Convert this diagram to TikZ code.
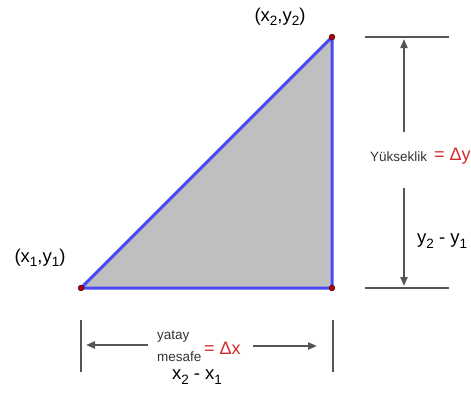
\documentclass[tikz,border=0pt]{standalone}
\usepackage{fontspec}
\setmainfont{Liberation Sans}
\usepackage{tikz}
\usepackage{xcolor}
\usetikzlibrary{arrows.meta,positioning,calc}
\definecolor{edgeblue}{HTML}{4A4AF5}
\definecolor{shadegray}{HTML}{BFBFBF}
\definecolor{dotred}{HTML}{C00000}
\definecolor{dimgray}{HTML}{555555}
\definecolor{deltared}{HTML}{D42A2A}
\newcommand{\lowidx}[1]{\raisebox{-0.45ex}{\fontsize{13.5}{14}\selectfont #1}}

\begin{document}
\begin{tikzpicture}[x=1pt,y=-1pt,
    big/.style={font=\fontsize{18.5}{20}\selectfont,inner sep=0pt},
    small/.style={font=\fontsize{13.5}{15}\selectfont,inner sep=0pt},
    delta/.style={font=\fontsize{18}{20}\selectfont,inner sep=0pt,text=deltared,anchor=west},
    dimline/.style={dimgray,line width=2.2pt},
    dimarrow/.style={dimgray,line width=2pt,-{Triangle[length=9pt,width=7pt]}}]
  \useasboundingbox (0,0) rectangle (471,394);
  % triangle corners
  \coordinate (A) at (81,288);
  \coordinate (B) at (332,288);
  \coordinate (C) at (332,37);
  \fill[shadegray] (A) -- (B) -- (C) -- cycle;
  \draw[edgeblue,line width=3pt,line join=round] (A) -- (B) -- (C) -- cycle;
  \foreach \p in {A,B,C}
    \filldraw[fill=dotred,draw=black!70!dotred,line width=0.6pt] (\p) circle (2.8pt);
  \node[big] (lblA) at (40,258) {(x\lowidx{1},y\lowidx{1})};
  \node[big] (lblC) at (280,17) {(x\lowidx{2},y\lowidx{2})};
  % vertical size
  \coordinate (ttopL) at (365,37);
  \coordinate (ttopR) at (449,37);
  \coordinate (tbotL) at (365,288);
  \coordinate (tbotR) at (449,288);
  \draw[dimline] (ttopL) -- (ttopR);
  \draw[dimline] (tbotL) -- (tbotR);
  \coordinate (upTail) at (404,132);
  \coordinate (upTip) at (404,39);
  \coordinate (dnTail) at (404,188);
  \coordinate (dnTip) at (404,286);
  \draw[dimarrow] (upTail) -- (upTip);
  \draw[dimarrow] (dnTail) -- (dnTip);
  \node[small,anchor=west] (yuk) at (370,157) {\color{dimgray!60!black}Yükseklik};
  \node[delta] (dy) at (434,156) {= Δy};
  \node[big,anchor=west] (ydiff) at (417,241) {y\lowidx{2} - y\lowidx{1}};
  % horizontal size
  \coordinate (lbarT) at (81,320);
  \coordinate (lbarB) at (81,372);
  \coordinate (rbarT) at (333,320);
  \coordinate (rbarB) at (333,372);
  \draw[dimline] (lbarT) -- (lbarB);
  \draw[dimline] (rbarT) -- (rbarB);
  \coordinate (lTail) at (148,345);
  \coordinate (lTip) at (86,345);
  \coordinate (rTail) at (253,346);
  \coordinate (rTip) at (317,346);
  \draw[dimarrow] (lTail) -- (lTip);
  \draw[dimarrow] (rTail) -- (rTip);
  \node[small,anchor=west] (yatay) at (157,337) {\color{dimgray!60!black}yatay};
  \node[small,anchor=west] (mesafe) at (157,357) {\color{dimgray!60!black}mesafe};
  \node[delta] (dx) at (204,348) {= Δx};
  \node[big] (xdiff) at (197,377) {x\lowidx{2} - x\lowidx{1}};
\end{tikzpicture}
\end{document}
